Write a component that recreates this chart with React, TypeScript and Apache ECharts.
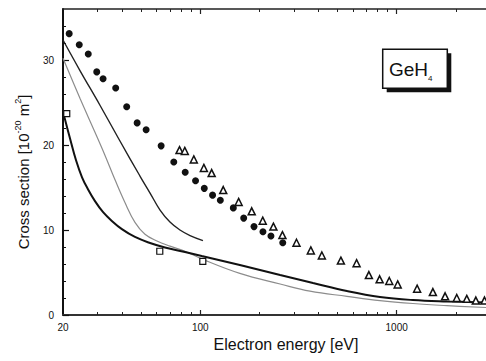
import React, { useEffect, useRef } from "react";
import * as echarts from "echarts";

// Axis ticks and labels
const xLabelValues = [20, 100, 1000];
const xMajorTicks = [100, 1000];
const xMinorTicks = [30, 40, 50, 60, 70, 80, 90, 200, 300, 400, 500, 600, 700, 800, 900, 2000];
const yMajorTicks = [0, 10, 20, 30];
const yMinorTicks = [2, 4, 6, 8, 12, 14, 16, 18, 22, 24, 26, 28, 32, 34];

// Theoretical curves [energy eV, cross section]
const upperSolid: [number, number][] = [
  [20, 32.35], [24.4, 28.76], [30.9, 24.65], [39.0, 20.47], [49.3, 16.35],
  [55.5, 14.35], [62.4, 12.35], [70.1, 10.94], [78.8, 10.0], [88.7, 9.35], [103.2, 8.76],
];
const grayCurve: [number, number][] = [
  [20, 30.2], [24.4, 25.5], [29.1, 21.5], [32.7, 18.8], [36.8, 15.9], [41.4, 13.2],
  [46.5, 10.9], [52.3, 9.5], [60.2, 8.7], [70.1, 8.1], [83.6, 7.5], [101.7, 6.6],
  [159, 4.9], [255, 3.65], [362, 2.8], [558, 2.2], [822, 1.7], [1210, 1.35],
  [1803, 1.1], [2850, 0.88],
];
const lowerSolid: [number, number][] = [
  [20, 23.9], [21.7, 20.8], [23.3, 18.2], [25.0, 16.2], [26.8, 14.8], [29.1, 13.4],
  [32.0, 12.1], [35.5, 11.06], [39.9, 10.1], [46.5, 9.18], [55.5, 8.47], [66.1, 7.94],
  [83.6, 7.41], [101.7, 6.94], [159, 5.88], [255, 4.7], [375, 3.76], [558, 2.82],
  [822, 2.12], [1210, 1.76], [1803, 1.59], [2850, 1.47],
];

// Experimental data
const filledCircles: [number, number][] = [
  [21.5, 33.1], [24.2, 31.8], [26.9, 30.7], [29.7, 28.6], [32, 27.8], [37.1, 26.7],
  [42.2, 24.5], [47.7, 22.6], [53, 21.8], [63.2, 19.9], [73.3, 18.0], [83.8, 16.8],
  [94.6, 15.8], [104.8, 14.9], [115.5, 14.1], [126.5, 13.5], [147.3, 12.6],
  [166.4, 11.4], [187.8, 10.4], [208.5, 9.8], [229, 9.3], [263, 8.5],
];
const openTriangles: [number, number][] = [
  [78.4, 19.4], [83.4, 19.3], [92.7, 18.3], [104.3, 17.3], [114.3, 16.7], [130.9, 14.7],
  [156.8, 13.3], [182.8, 12.2], [208, 11.1], [235.7, 10.4], [262, 9.4], [309, 8.5],
  [365.5, 7.6], [416, 7.0], [520, 6.4], [625, 6.1], [722, 4.7], [819, 4.2],
  [917, 4.0], [1012, 3.6], [1271, 3.1], [1529, 2.7], [1764, 2.2], [2023, 2.0],
  [2275, 1.9], [2530, 1.7], [2800, 1.7],
];
const openSquares: [number, number][] = [
  [20.9, 23.7], [62.2, 7.5], [103, 6.3],
];

const FONT = "'Liberation Sans', Arial, Helvetica, sans-serif";
const X_MIN = 20;
const X_MAX = 2850;
const Y_MIN = 0;
const Y_MAX = 36;

export default function App() {
  const ref = useRef<HTMLDivElement>(null);

  useEffect(() => {
    if (!ref.current) return;
    const chart = echarts.init(ref.current, undefined, { renderer: "svg" });

    const baseX = {
      type: "log" as const,
      logBase: 10,
      min: X_MIN,
      max: X_MAX,
      splitLine: { show: false },
      minorSplitLine: { show: false },
    };
    const baseY = {
      type: "value" as const,
      min: Y_MIN,
      max: Y_MAX,
      splitLine: { show: false },
    };

    chart.setOption({
      animation: false,
      backgroundColor: "#ffffff",
      textStyle: { fontFamily: FONT },
      grid: { left: 63, top: 9, right: 0, bottom: 46, containLabel: false },
      xAxis: [
        {
          ...baseX,
          position: "bottom",
          axisLine: { show: true, lineStyle: { color: "#333", width: 2 } },
          axisTick: { show: true, inside: true, length: 5, customValues: xMajorTicks, lineStyle: { color: "#222", width: 1.2 } },
          axisLabel: {
            show: true,
            customValues: xLabelValues,
            margin: 7,
            fontSize: 10,
            color: "#111",
            fontFamily: FONT,
            formatter: (v: number) => String(Math.round(v)),
          },
        },
        {
          ...baseX,
          position: "bottom",
          axisLine: { show: false },
          axisTick: { show: true, inside: true, length: 3, customValues: xMinorTicks, lineStyle: { color: "#222", width: 1 } },
          axisLabel: { show: false },
        },
        {
          ...baseX,
          position: "top",
          axisLine: { show: true, lineStyle: { color: "#222", width: 1.5 } },
          axisTick: { show: true, inside: true, length: 5, customValues: xMajorTicks, lineStyle: { color: "#222", width: 1.2 } },
          axisLabel: { show: false },
        },
        {
          ...baseX,
          position: "top",
          axisLine: { show: false },
          axisTick: { show: true, inside: true, length: 3, customValues: xMinorTicks, lineStyle: { color: "#222", width: 1 } },
          axisLabel: { show: false },
        },
      ],
      yAxis: [
        {
          ...baseY,
          position: "left",
          axisLine: { show: true, lineStyle: { color: "#111", width: 2 } },
          axisTick: { show: true, inside: true, length: 6, customValues: yMajorTicks, lineStyle: { color: "#111", width: 1.2 } },
          axisLabel: {
            show: true,
            customValues: yMajorTicks,
            margin: 9,
            fontSize: 10,
            color: "#111",
            fontFamily: FONT,
          },
        },
        {
          ...baseY,
          position: "left",
          axisLine: { show: false },
          axisTick: { show: true, inside: true, length: 3, customValues: yMinorTicks, lineStyle: { color: "#111", width: 1 } },
          axisLabel: { show: false },
        },
      ],
      series: [
        {
          type: "line",
          data: upperSolid,
          showSymbol: false,
          smooth: 0.4,
          lineStyle: { color: "#222", width: 1.4 },
          z: 2,
        },
        {
          type: "line",
          data: grayCurve,
          showSymbol: false,
          smooth: 0.4,
          lineStyle: { color: "#8c8c8c", width: 1.2 },
          z: 2,
        },
        {
          type: "line",
          data: lowerSolid,
          showSymbol: false,
          smooth: 0.4,
          lineStyle: { color: "#111", width: 2 },
          z: 3,
        },
        {
          type: "scatter",
          data: filledCircles,
          symbol: "circle",
          symbolSize: 7,
          itemStyle: { color: "#111", opacity: 1 },
          z: 4,
        },
        {
          type: "scatter",
          data: openTriangles,
          symbol: "triangle",
          symbolSize: 7,
          itemStyle: { color: "#fff", borderColor: "#111", borderWidth: 1.5, opacity: 1 },
          z: 4,
        },
        {
          type: "scatter",
          data: openSquares,
          symbol: "rect",
          symbolSize: 6,
          itemStyle: { color: "#fff", borderColor: "#111", borderWidth: 1.2, opacity: 1 },
          z: 4,
        },
      ],
      graphic: [
        {
          type: "text",
          x: 23,
          y: 172,
          rotation: Math.PI / 2,
          style: {
            text: "Cross section [10{sup|-20} m{sup|2}]",
            fontFamily: FONT,
            fontSize: 15,
            lineHeight: 20,
            fill: "#111",
            align: "center",
            verticalAlign: "middle",
            rich: {
              sup: { fontSize: 9, lineHeight: 10, verticalAlign: "top", fontFamily: FONT, fill: "#111" },
            },
          },
        },
        {
          type: "text",
          x: 286,
          y: 344,
          style: {
            text: "Electron energy [eV]",
            fontFamily: FONT,
            fontSize: 16,
            fill: "#111",
            align: "center",
            verticalAlign: "middle",
          },
        },
        {
          type: "rect",
          shape: { x: 386.7, y: 53.3, width: 64.6, height: 39 },
          style: { fill: "#111" },
          z: 10,
        },
        {
          type: "rect",
          shape: { x: 382.7, y: 49.3, width: 64.6, height: 39 },
          style: { fill: "#fff", stroke: "#111", lineWidth: 1.5 },
          z: 11,
        },
        {
          type: "text",
          x: 389,
          y: 69,
          z: 12,
          style: {
            text: "GeH{sub|4}",
            fontFamily: FONT,
            fontSize: 19,
            lineHeight: 26,
            fill: "#111",
            align: "left",
            verticalAlign: "middle",
            rich: {
              sub: { fontSize: 8, lineHeight: 8, verticalAlign: "bottom", fontFamily: FONT, fill: "#111" },
            },
          },
        },
      ],
    });

    return () => chart.dispose();
  }, []);

  return (
    <div
      ref={ref}
      style={{ position: "absolute", left: 0, top: 0, width: 486, height: 361, background: "#fff" }}
    />
  );
}
